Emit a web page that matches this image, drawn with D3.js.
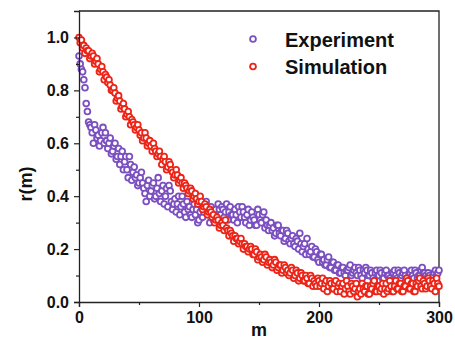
<!DOCTYPE html>
<html>
<head>
<meta charset="utf-8">
<script src="https://cdn.jsdelivr.net/npm/d3@7"></script>
<style>
  html, body { margin: 0; padding: 0; background: #fff; }
  svg { display: block; }
  text { font-family: "Liberation Sans", Arial, sans-serif; font-weight: bold; fill: #111; }
</style>
</head>
<body>
<svg id="chart" width="455" height="339"></svg>
<script>
// ---- data (m = 0..300, step 1) ----
const mStart = 0, mStep = 1;
const experiment = [
  0.93,0.90,0.88,0.87,0.84,0.81,0.75,0.72,0.68,0.67,
  0.66,0.64,0.60,0.67,0.65,0.62,0.63,0.59,0.61,0.64,
  0.66,0.60,0.64,0.61,0.58,0.60,0.62,0.56,0.57,0.59,
  0.60,0.54,0.55,0.58,0.52,0.55,0.57,0.50,0.53,0.55,
  0.50,0.47,0.55,0.52,0.46,0.49,0.51,0.47,0.48,0.44,
  0.45,0.47,0.49,0.45,0.43,0.41,0.38,0.44,0.46,0.40,
  0.42,0.44,0.45,0.39,0.40,0.43,0.47,0.41,0.38,0.42,
  0.44,0.37,0.40,0.43,0.36,0.44,0.42,0.38,0.35,0.37,
  0.39,0.34,0.37,0.40,0.33,0.36,0.40,0.37,0.34,0.32,
  0.38,0.35,0.36,0.33,0.32,0.35,0.37,0.33,0.35,0.30,
  0.31,0.34,0.36,0.32,0.34,0.37,0.38,0.35,0.33,0.30,
  0.36,0.33,0.31,0.34,0.35,0.32,0.37,0.35,0.33,0.36,
  0.35,0.32,0.34,0.37,0.31,0.34,0.36,0.33,0.33,0.31,
  0.35,0.33,0.30,0.36,0.34,0.32,0.36,0.34,0.32,0.30,
  0.33,0.35,0.29,0.31,0.34,0.32,0.31,0.29,0.29,0.35,
  0.33,0.31,0.30,0.33,0.34,0.28,0.31,0.29,0.27,0.29,
  0.30,0.27,0.28,0.25,0.26,0.29,0.29,0.26,0.25,0.27,
  0.27,0.23,0.24,0.27,0.26,0.23,0.22,0.24,0.25,0.22,
  0.21,0.24,0.23,0.20,0.26,0.22,0.19,0.21,0.22,0.18,
  0.24,0.20,0.18,0.19,0.21,0.17,0.17,0.20,0.19,0.16,
  0.15,0.18,0.18,0.15,0.16,0.14,0.14,0.16,0.17,0.13,
  0.13,0.15,0.15,0.12,0.12,0.14,0.14,0.11,0.11,0.13,
  0.13,0.11,0.10,0.12,0.12,0.13,0.14,0.10,0.11,0.12,
  0.13,0.11,0.10,0.13,0.12,0.10,0.09,0.12,0.11,0.13,
  0.12,0.10,0.10,0.12,0.11,0.09,0.08,0.11,0.12,0.10,
  0.10,0.12,0.11,0.09,0.09,0.11,0.12,0.10,0.10,0.09,
  0.08,0.11,0.11,0.12,0.10,0.09,0.12,0.11,0.09,0.10,
  0.11,0.12,0.10,0.09,0.08,0.10,0.11,0.12,0.10,0.09,
  0.12,0.11,0.09,0.10,0.10,0.12,0.13,0.11,0.11,0.10,
  0.09,0.11,0.10,0.09,0.08,0.10,0.11,0.12,0.10,0.11,
  0.12
];
const simulation = [
  1.00,0.98,0.99,0.96,0.97,0.94,0.96,0.95,0.95,0.92,
  0.93,0.94,0.93,0.90,0.91,0.92,0.90,0.87,0.88,0.89,
  0.87,0.84,0.86,0.85,0.83,0.84,0.82,0.80,0.80,0.81,
  0.79,0.76,0.77,0.78,0.76,0.73,0.74,0.75,0.73,0.70,
  0.71,0.72,0.70,0.67,0.69,0.68,0.67,0.65,0.66,0.67,
  0.65,0.63,0.64,0.61,0.62,0.64,0.62,0.59,0.60,0.61,
  0.59,0.57,0.60,0.58,0.57,0.55,0.56,0.57,0.55,0.52,
  0.54,0.55,0.53,0.50,0.51,0.53,0.52,0.50,0.49,0.47,
  0.48,0.50,0.48,0.45,0.46,0.47,0.45,0.43,0.45,0.44,
  0.43,0.41,0.42,0.43,0.42,0.39,0.40,0.41,0.39,0.37,
  0.38,0.40,0.38,0.35,0.36,0.37,0.36,0.33,0.34,0.35,
  0.34,0.32,0.33,0.30,0.31,0.32,0.31,0.28,0.29,0.30,
  0.29,0.27,0.31,0.28,0.27,0.25,0.27,0.26,0.25,0.23,
  0.25,0.24,0.24,0.22,0.23,0.24,0.22,0.20,0.22,0.21,
  0.21,0.19,0.20,0.21,0.20,0.18,0.18,0.20,0.19,0.16,
  0.17,0.18,0.17,0.15,0.16,0.18,0.17,0.14,0.15,0.16,
  0.15,0.13,0.14,0.16,0.15,0.12,0.13,0.14,0.14,0.11,
  0.12,0.14,0.13,0.11,0.12,0.10,0.11,0.13,0.12,0.09,
  0.10,0.12,0.11,0.08,0.09,0.11,0.10,0.08,0.08,0.10,
  0.09,0.07,0.07,0.10,0.09,0.06,0.08,0.07,0.06,0.09,
  0.08,0.06,0.07,0.09,0.05,0.07,0.08,0.04,0.06,0.08,
  0.07,0.05,0.05,0.07,0.08,0.04,0.06,0.07,0.04,0.06,
  0.07,0.03,0.05,0.08,0.06,0.04,0.03,0.07,0.06,0.04,
  0.05,0.07,0.02,0.04,0.05,0.03,0.07,0.05,0.04,0.06,
  0.06,0.03,0.03,0.06,0.05,0.07,0.08,0.04,0.04,0.06,
  0.06,0.04,0.05,0.07,0.03,0.05,0.07,0.04,0.05,0.08,
  0.06,0.04,0.04,0.06,0.08,0.05,0.05,0.07,0.07,0.04,
  0.04,0.06,0.06,0.09,0.08,0.05,0.05,0.07,0.07,0.04,
  0.04,0.07,0.06,0.08,0.09,0.06,0.05,0.08,0.07,0.05,
  0.06,0.09,0.08,0.06,0.05,0.08,0.07,0.04,0.09,0.07,
  0.06
];
const seriesNames = ["Experiment", "Simulation"];
const seriesColors = ["#7b4fc0", "#ec2418"];
const xTicks = [0, 100, 200, 300];
const xMinorTicks = [50, 150, 250];
const yTicks = [0.0, 0.2, 0.4, 0.6, 0.8, 1.0];
const yMinorTicks = [0.1, 0.3, 0.5, 0.7, 0.9];
const xLabel = "m";
const yLabel = "r(m)";

// ---- layout ----
const plot = { left: 79, right: 439, top: 11, bottom: 302 };
const svg = d3.select("#chart");

const x = d3.scaleLinear().domain([0, 300]).range([plot.left, plot.right]);
const y = d3.scaleLinear().domain([0, 1.1]).range([plot.bottom, plot.top]);

// frame (top & right)
svg.append("path")
  .attr("d", `M${plot.left},${plot.top}H${plot.right}V${plot.bottom}`)
  .attr("fill", "none").attr("stroke", "#222").attr("stroke-width", 1.3);

// data points
const toPts = arr => arr.map((v, i) => ({ m: mStart + i * mStep, r: v }));
[experiment, simulation].forEach((arr, k) => {
  svg.append("g").selectAll("circle").data(toPts(arr)).join("circle")
    .attr("cx", d => x(d.m)).attr("cy", d => y(d.r)).attr("r", 2.9)
    .attr("fill", "#fff").attr("stroke", seriesColors[k]).attr("stroke-width", 1.8);
});

// axes
const xAxis = svg.append("g").attr("transform", `translate(0,${plot.bottom})`)
  .call(d3.axisBottom(x).tickValues(xTicks).tickFormat(d3.format("d")).tickSize(5).tickPadding(5));
const xMinor = svg.append("g").attr("transform", `translate(0,${plot.bottom})`)
  .call(d3.axisBottom(x).tickValues(xMinorTicks).tickFormat("").tickSize(3));
const yAxis = svg.append("g").attr("transform", `translate(${plot.left},0)`)
  .call(d3.axisLeft(y).tickValues(yTicks).tickFormat(d3.format(".1f")).tickSize(5).tickPadding(5));
const yMinor = svg.append("g").attr("transform", `translate(${plot.left},0)`)
  .call(d3.axisLeft(y).tickValues(yMinorTicks).tickFormat("").tickSize(3));

[xAxis, xMinor, yAxis, yMinor].forEach(g => {
  g.select(".domain").attr("stroke", "#222").attr("stroke-width", 1.3);
  g.selectAll(".tick line").attr("stroke", "#222").attr("stroke-width", 1.2);
  g.selectAll(".tick text").attr("font-family", "Liberation Sans, Arial, sans-serif")
    .attr("font-weight", "bold").attr("font-size", 16).attr("fill", "#111");
});
xMinor.select(".domain").remove();
yMinor.select(".domain").remove();

// axis titles
svg.append("text").attr("x", (plot.left + plot.right) / 2).attr("y", 336)
  .attr("text-anchor", "middle").attr("font-size", 18).text(xLabel);
svg.append("text").attr("transform", "translate(32,184) rotate(-90)")
  .attr("text-anchor", "middle").attr("font-size", 18).text(yLabel);

// legend
const legend = svg.append("g");
seriesNames.forEach((name, k) => {
  const cy = 39 + k * 27.5;
  legend.append("circle").attr("cx", 253).attr("cy", cy).attr("r", 2.9)
    .attr("fill", "#fff").attr("stroke", seriesColors[k]).attr("stroke-width", 1.8);
  legend.append("text").attr("x", 285).attr("y", cy + 7.5)
    .attr("font-size", 20).text(name);
});
</script>
</body>
</html>
